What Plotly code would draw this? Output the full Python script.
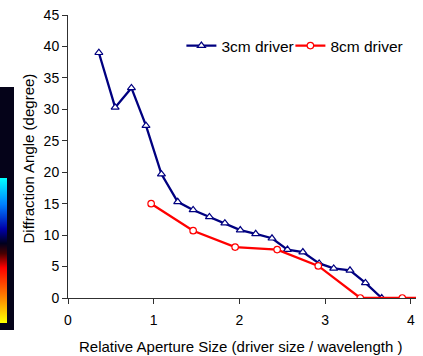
import plotly.graph_objects as go

# ---- data ----
x_3cm = [0.36, 0.55, 0.74, 0.91, 1.09, 1.28, 1.46, 1.65, 1.83, 2.01, 2.19, 2.38, 2.56, 2.74, 2.93, 3.10, 3.29, 3.47, 3.66]
y_3cm = [39.0, 30.3, 33.4, 27.4, 19.7, 15.3, 14.0, 12.9, 11.9, 10.8, 10.2, 9.5, 7.7, 7.3, 5.5, 4.7, 4.4, 2.4, 0.0]
x_8cm = [0.97, 1.46, 1.95, 2.44, 2.92, 3.41, 3.90, 4.39]
y_8cm = [15.0, 10.7, 8.1, 7.7, 5.1, 0.0, 0.0, 0.0]
x_ticks = [0, 1, 2, 3, 4]
y_ticks = [0, 5, 10, 15, 20, 25, 30, 35, 40, 45]

W, H = 423, 356
ML, MR, MT, MB = 68, 7, 15, 58
PW, PH = W - ML - MR, H - MT - MB
FONT = "Liberation Sans, Arial, sans-serif"


def px_x(p):
    return (p - ML) / PW


def px_y(p):
    return (H - MB - p) / PH


fig = go.Figure()
fig.add_trace(go.Scatter(
    x=x_3cm, y=y_3cm, mode="lines+markers", name="3cm driver", legend="legend",
    line=dict(color="#000080", width=2.3),
    marker=dict(symbol="triangle-up", size=7, color="white", line=dict(color="#000080", width=1.2)),
))
fig.add_trace(go.Scatter(
    x=x_8cm, y=y_8cm, mode="lines+markers", name="8cm driver", legend="legend2",
    line=dict(color="#FF0000", width=2.3),
    marker=dict(symbol="circle", size=6.5, color="white", line=dict(color="#FF0000", width=1.2)),
))

# decorative dark strip with colour gradient at left edge
shapes = [dict(type="rect", xref="paper", yref="paper", x0=px_x(0), x1=px_x(14),
               y0=px_y(330), y1=px_y(87), fillcolor="rgb(5,3,25)", line=dict(width=0), layer="below")]
stops = [(0.0, (0, 255, 255)), (0.18, (0, 128, 255)), (0.35, (0, 0, 170)), (0.45, (0, 0, 30)),
         (0.52, (70, 0, 0)), (0.62, (255, 0, 0)), (0.82, (255, 128, 0)), (1.0, (255, 255, 0))]


def col(t):
    for (a, ca), (b, cb) in zip(stops[:-1], stops[1:]):
        if a <= t <= b:
            f = (t - a) / (b - a) if b > a else 0
            return "rgb(%d,%d,%d)" % tuple(round(ca[i] + (cb[i] - ca[i]) * f) for i in range(3))
    return "rgb(255,255,0)"


top, bot = 178, 323
n = bot - top
for i in range(n):
    shapes.append(dict(type="rect", xref="paper", yref="paper", x0=px_x(0), x1=px_x(7),
                       y0=px_y(top + i + 1), y1=px_y(top + i), fillcolor=col(i / (n - 1)),
                       line=dict(width=0), layer="below"))

annotations = [
    dict(text="Relative Aperture Size (driver size / wavelength )", xref="paper", yref="paper",
         x=px_x(240), y=px_y(347), xanchor="center", yanchor="middle", showarrow=False,
         font=dict(size=15)),
    dict(text="Diffraction Angle (degree)", xref="paper", yref="paper", textangle=-90,
         x=px_x(28), y=px_y(158.5), xanchor="center", yanchor="middle", showarrow=False,
         font=dict(size=15)),
]

leg_common = dict(orientation="h", yanchor="middle", xanchor="left", font=dict(size=15.5),
                  bgcolor="rgba(0,0,0,0)", itemwidth=30)

fig.update_layout(
    width=W, height=H, margin=dict(l=ML, r=MR, t=MT, b=MB, autoexpand=False),
    paper_bgcolor="white", plot_bgcolor="white",
    font=dict(family=FONT, size=14, color="black"),
    shapes=shapes, annotations=annotations,
    showlegend=True,
    legend=dict(x=px_x(181.4), y=px_y(46), **leg_common),
    legend2=dict(x=px_x(290.4), y=px_y(46), **leg_common),
    xaxis=dict(range=[0, 4.06], tickvals=x_ticks, showgrid=False, zeroline=False, automargin=False,
               showline=True, linecolor="#303030", linewidth=1, ticks="outside", ticklen=5,
               tickcolor="#303030", tickfont=dict(size=14), ticklabelstandoff=4),
    yaxis=dict(range=[0, 45], tickvals=y_ticks, showgrid=False, zeroline=False, automargin=False,
               showline=True, linecolor="#303030", linewidth=1, ticks="outside", ticklen=5,
               tickcolor="#303030", tickfont=dict(size=14)),
)
fig.write_html("out.html", config={"displayModeBar": False},
               post_script="document.body.style.margin='0';")
